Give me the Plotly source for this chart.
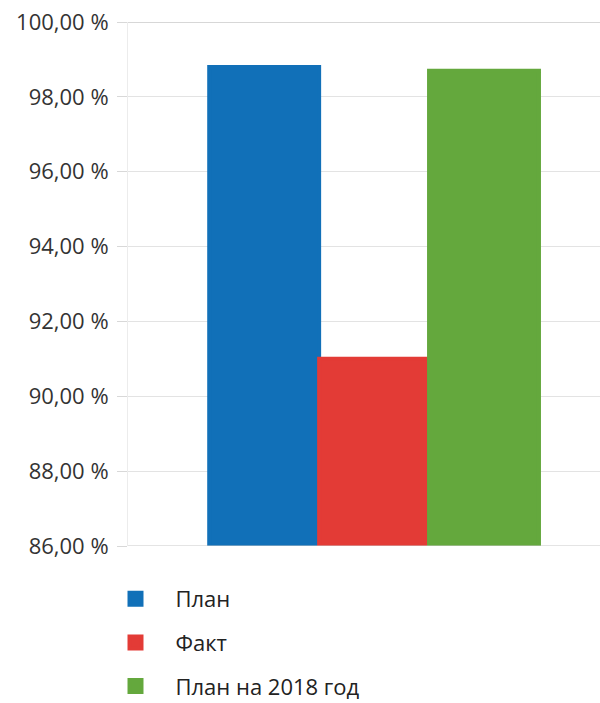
import plotly.graph_objects as go

series_names = ["План", "Факт", "План на 2018 год"]
series_values = [98.8, 91.0, 98.7]
series_colors = ["#1170b8", "#e33b36", "#64a83d"]
tick_values = [86, 88, 90, 92, 94, 96, 98, 100]
tick_labels = ["86,00 %", "88,00 %", "90,00 %", "92,00 %", "94,00 %", "96,00 %", "98,00 %", "100,00 %"]

fig = go.Figure()
for i, (name, val, col) in enumerate(zip(series_names, series_values, series_colors)):
    fig.add_trace(go.Bar(
        x=[0], y=[val], name=name, legendgroup=f"g{i}",
        marker=dict(color=col, line=dict(width=4, color=col)),
        hoverinfo="skip",
    ))

fig.update_layout(
    width=600, height=703,
    margin=dict(l=128, r=0, t=22, b=157, autoexpand=False),
    paper_bgcolor="white", plot_bgcolor="white",
    barmode="group", bargap=0.33, bargroupgap=0,
    font=dict(family="Open Sans, sans-serif", size=22, color="#333333"),
    xaxis=dict(range=[-0.5, 0.459], showticklabels=False, showgrid=False,
               zeroline=False, showline=False, fixedrange=True),
    yaxis=dict(range=[86, 100], tickvals=tick_values, ticktext=tick_labels,
               showgrid=True, gridcolor="#e3e3e3", gridwidth=1,
               zeroline=False, showline=True, linecolor="#ececec", linewidth=1,
               ticks="outside", ticklen=10, tickcolor="#d8d8d8",
               ticklabelstandoff=4,
               tickfont=dict(size=22, color="#333333"), fixedrange=True),
    legend=dict(orientation="v", xref="container", yref="container",
                x=95.5 / 600, y=1 - 578 / 703, xanchor="left", yanchor="top",
                font=dict(size=22, color="#222222"), tracegroupgap=12,
                itemwidth=70, bgcolor="rgba(0,0,0,0)"),
    showlegend=True,
)
fig.add_shape(type="line", xref="paper", yref="y", x0=0, x1=1, y0=100, y1=100,
              line=dict(color="#b0b0b0", width=1))
fig.add_shape(type="line", xref="paper", yref="y", x0=0, x1=1, y0=86, y1=86,
              line=dict(color="#c8c8c8", width=1))

fig.write_html("out.html", config={"displayModeBar": False},
               post_script="document.body.style.margin='0';")
